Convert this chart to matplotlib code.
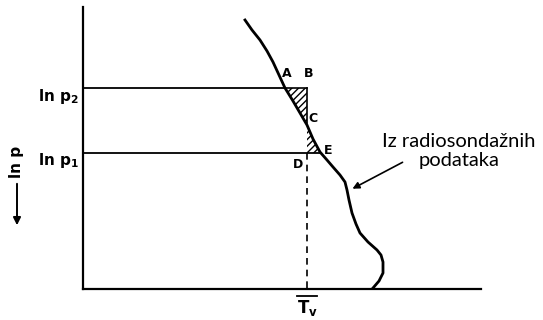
import matplotlib.pyplot as plt
import numpy as np

# sounding curve (picture coords, y grows downward)
curve_x = [245, 252, 260, 267, 273, 279, 285, 293, 300, 307, 313, 320, 327, 333, 340, 345,
           347, 349, 352, 356, 360, 368, 377, 381, 383, 383, 379, 373]
curve_y = [20, 30, 40, 51, 62, 75, 88, 101, 113, 125, 139, 152, 160, 167, 175, 182,
           190, 200, 213, 224, 233, 242, 250, 255, 262, 273, 281, 288]

p2_y = 88
p1_y = 153
tv_x = 307

plt.rcParams["hatch.linewidth"] = 1.0

fig = plt.figure(figsize=(5.43, 3.2), dpi=100)
ax = fig.add_axes([0, 0, 1, 1])
ax.set_xlim(0, 543)
ax.set_ylim(320, 0)
ax.axis("off")

lw = 1.6
# axes
ax.plot([83, 83], [7, 289], color="black", lw=lw)
ax.plot([83, 481], [289, 289], color="black", lw=lw)

# pressure levels
ax.plot([83, 285], [p2_y, p2_y], color="black", lw=1.3)
ax.plot([83, 320], [p1_y, p1_y], color="black", lw=1.3)

# mean virtual temperature
ax.plot([tv_x, tv_x], [p2_y, 123], color="black", lw=1.2)
ax.plot([285, tv_x], [p2_y, p2_y], color="black", lw=1.2)
ax.plot([tv_x, tv_x], [p1_y, 289], color="black", lw=1.2, ls=(0, (4, 3)))

# hatched areas between curve and Tv
yy = np.linspace(p2_y, p1_y, 80)
cx = np.interp(yy, curve_y, curve_x)
ax.fill_betweenx(yy, cx, tv_x, where=cx <= tv_x, facecolor="none", edgecolor="black",
                 hatch="/////", lw=0, interpolate=True)
ax.fill_betweenx(yy, tv_x, cx, where=cx >= tv_x, facecolor="none", edgecolor="black",
                 hatch="/////", lw=0, interpolate=True)

ax.plot(curve_x, curve_y, color="black", lw=2, solid_joinstyle="round")

fs = 9
kw = dict(fontsize=fs, fontweight="bold", family="DejaVu Sans")
ax.text(287, 80, "A", ha="center", va="bottom", **kw)
ax.text(309, 80, "B", ha="center", va="bottom", **kw)
ax.text(308, 119, "C", ha="left", va="center", **kw)
ax.text(298, 158, "D", ha="center", va="top", **kw)
ax.text(324, 151, "E", ha="left", va="center", **kw)

tk = dict(fontsize=11, family="DejaVu Sans", fontweight="bold")
ax.text(79, 96, "ln p$_\\mathbf{2}$", ha="right", va="center", **tk)
ax.text(79, 160, "ln p$_\\mathbf{1}$", ha="right", va="center", **tk)
ax.text(17, 162, "ln p", ha="center", va="center", rotation=90, **tk)
ax.annotate("", xy=(17, 228), xytext=(17, 181),
            arrowprops=dict(arrowstyle="-|>", color="black", lw=1.4, mutation_scale=11))

ax.plot([297, 317], [296, 296], color="black", lw=1.3)
ax.text(307, 298, "T$_\\mathbf{v}$", ha="center", va="top", fontsize=12,
        family="DejaVu Sans", fontweight="bold")

ax.text(459, 151, "Iz radiosondažnih\npodataka", ha="center", va="center",
        fontsize=14.5, linespacing=1.1, family="Lato")
ax.annotate("", xy=(350, 190), xytext=(405, 161),
            arrowprops=dict(arrowstyle="-|>", color="black", lw=1.2, mutation_scale=10))

fig.savefig("out.png", dpi=100)
